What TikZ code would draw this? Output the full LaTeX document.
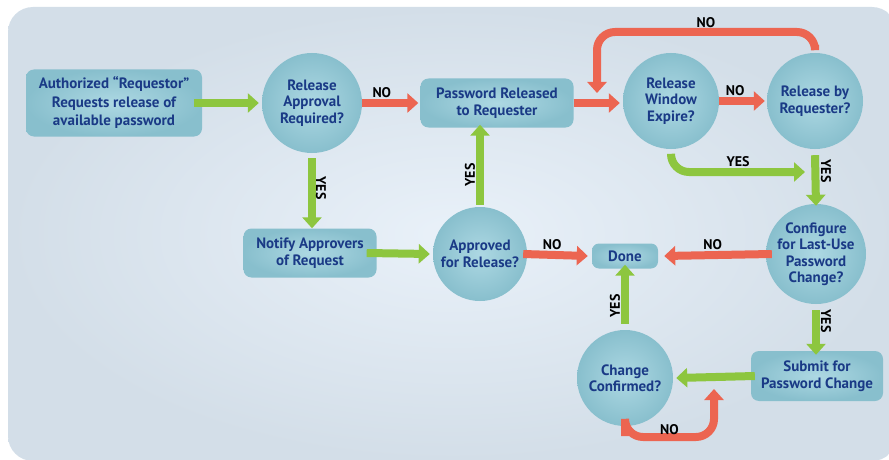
\documentclass[tikz,border=0pt]{standalone}
\usepackage{fontspec}
\setmainfont{PT Sans}
\usetikzlibrary{arrows.meta}
\definecolor{navy}{HTML}{1A3A86}
\definecolor{agreen}{HTML}{8DC63F}
\definecolor{ared}{HTML}{EC6551}
\definecolor{nodeA}{HTML}{ADD8E3}
\definecolor{nodeB}{HTML}{88BFCD}
\definecolor{bgA}{HTML}{E9F1F9}
\definecolor{bgB}{HTML}{D3DEE8}
\tikzset{
 txt/.style={font=\bfseries\fontsize{15}{16.5}\selectfont, text=navy, align=center},
 dec/.style={circle, txt, inner color=nodeA, outer color=nodeB, minimum size=96pt, inner sep=0pt},
 box/.style={rounded corners=8pt, txt, inner color=nodeA, outer color=nodeB, inner sep=0pt},
 ga/.style={draw=agreen, line width=8pt, -{Triangle[length=11pt,width=19pt]}},
 ra/.style={draw=ared, line width=8pt, -{Triangle[length=11pt,width=19pt]}},
 lab/.style={font=\bfseries\fontsize{14}{15}\selectfont, text=black, inner sep=0pt},
}
\begin{document}
\begin{tikzpicture}[x=1pt,y=-1pt]
\useasboundingbox (0,0) rectangle (889,460);
\begin{scope}
\clip (0,0) rectangle (889,460);
\shade[inner color=bgA, outer color=bgB, rounded corners=25pt] (8,7) rectangle (897,461);
\end{scope}
% nodes
\node[box, font=\bfseries\fontsize{15}{18.5}\selectfont, minimum width=176pt, minimum height=67pt] (b1) at (114,103) {Authorized “Requestor”\\Requests release of\\available password};
\node[dec, minimum size=100pt] (c2) at (312,103) {Release\\Approval\\Required?};
\node[box, minimum width=153pt, minimum height=49pt] (b3) at (497,103) {Password Released\\to Requester};
\node[dec] (c4) at (671,101) {Release\\Window\\Expire?};
\node[dec] (c5) at (815,101) {Release by\\Requester?};
\node[box, minimum width=133pt, minimum height=49pt] (b6) at (310,253) {Notify Approvers\\of Request};
\node[dec, minimum size=94pt] (c7) at (480,254) {Approved\\for Release?};
\node[box, rounded corners=7pt, minimum width=66pt, minimum height=25pt] (done) at (625,256) {Done};
\node[dec, minimum size=100pt] (c9) at (816,254) {Configure\\for Last-Use\\Password\\Change?};
\node[box, minimum width=132pt, minimum height=50pt] (b10) at (817,376) {Submit for\\Password Change};
\node[dec] (c11) at (625,378) {Change\\Confirmed?};
% helper coordinates
\coordinate (loopend) at (597,93);
\coordinate (looptop) at (0,32);
\coordinate (yesend) at (805,172);
\coordinate (noend) at (714,389);
\coordinate (nobot) at (0,437);
% arrows
\draw[ga] ([xshift=-8pt]b1.east) -- ([xshift=-3pt]c2.west);
\draw[ra] (c2.east) -- node[lab, above=1pt, pos=0.35]{NO} ([xshift=-2pt]b3.west);
\draw[ra] (b3.east) -- ([xshift=-3pt]b3.east -| c4.west);
\draw[ra] (c4.east) -- node[lab, above=1pt, pos=0.35]{NO} ([xshift=-2pt]c5.west);
\draw[ra, rounded corners=18pt] ([yshift=8pt]c5.north) -- (c5.north |- looptop) -- node[lab, above=0pt, pos=0.5]{NO} (loopend |- looptop) -- (loopend);
\draw[ga, rounded corners=18pt] ([yshift=-6pt]c4.south) -- (c4.south |- yesend) -- node[lab, above=1pt, pos=0.5]{YES} (yesend);
\draw[ga] ([yshift=-6pt]c5.south) -- ([yshift=-2pt]c9.north);
\node[lab, rotate=-90] at (826,171) {YES};
\draw[ga] ([yshift=-5pt]c2.south) -- (b6.north -| c2.south);
\node[lab, rotate=-90] at (321,188) {YES};
\draw[ga] ([xshift=-10pt]b6.east) -- ([xshift=-3pt]c7.west);
\draw[ga] ([yshift=2pt]c7.north) -- ([yshift=3pt]b3.south -| c7.north);
\node[lab, rotate=90] at (470,175) {YES};
\draw[ra] ([xshift=-4pt]c7.east) -- node[lab, above=1pt, pos=0.45]{NO} ([xshift=-4pt]done.west);
\draw[ra] ([xshift=6pt]c9.west) -- node[lab, above=1pt, pos=0.55]{NO} ([xshift=6pt]done.east);
\draw[ga] ([yshift=-6pt]c9.south) -- ([yshift=-4pt]b10.north -| c9.south);
\node[lab, rotate=-90] at (826,321) {YES};
\draw[ga] ([xshift=4pt]b10.west) -- ([xshift=3pt]c11.east);
\draw[ga] ([yshift=6pt]c11.north) -- ([yshift=4pt]done.south);
\node[lab, rotate=90] at (615,306) {YES};
\draw[ra, rounded corners=18pt] ([yshift=-10pt]c11.south) -- (c11.south |- nobot) -- node[lab, above=-2pt, pos=0.5]{NO} (noend |- nobot) -- (noend);
\end{tikzpicture}
\end{document}
